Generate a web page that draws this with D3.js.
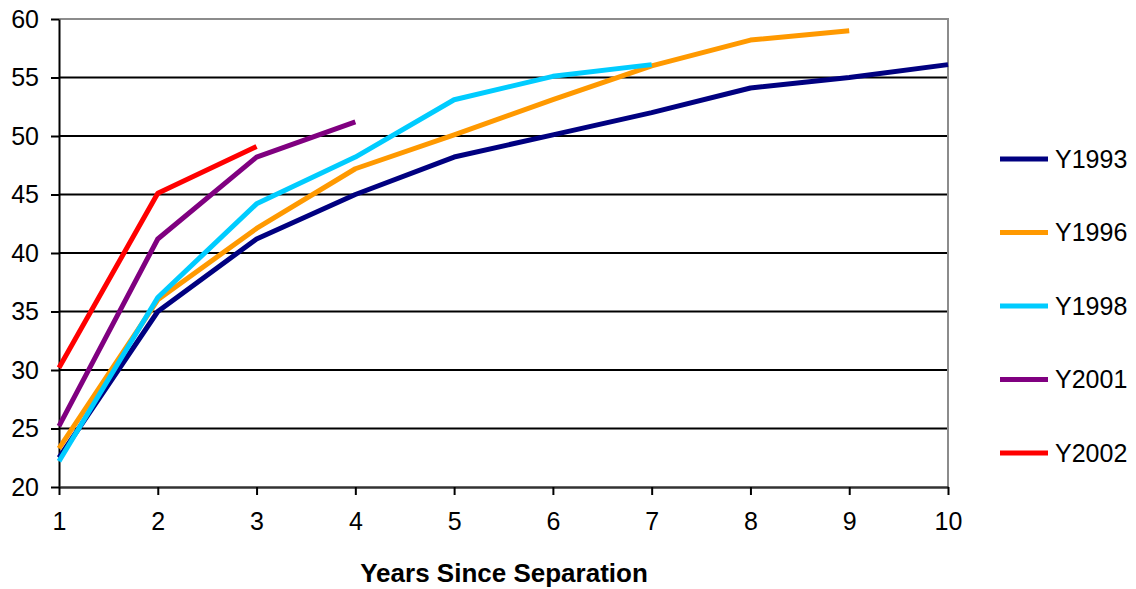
<!DOCTYPE html>
<html>
<head>
<meta charset="utf-8">
<script src="https://cdn.jsdelivr.net/npm/d3@7"></script>
<style>
  body { margin: 0; background: #fff; }
  svg { display: block; font-family: "Liberation Sans", Arial, sans-serif; }
</style>
</head>
<body>
<div id="chart"></div>
<script>
// years since separation (x categories)
const years = [1, 2, 3, 4, 5, 6, 7, 8, 9, 10];
const yTicks = [20, 25, 30, 35, 40, 45, 50, 55, 60];

// series values
const seriesNames = ["Y1993", "Y1996", "Y1998", "Y2001", "Y2002"];
const y1993 = [22.5, 35.0, 41.2, 45.0, 48.2, 50.1, 52.0, 54.1, 55.0, 56.1];
const y1996 = [23.3, 36.0, 42.1, 47.2, 50.1, 53.1, 56.0, 58.2, 59.0];
const y1998 = [22.2, 36.2, 44.2, 48.2, 53.1, 55.1, 56.1];
const y2001 = [25.2, 41.2, 48.2, 51.2];
const y2002 = [30.2, 45.1, 49.1];
const seriesColors = ["#000080", "#FF9900", "#00CCFF", "#800080", "#FF0000"];

const series = [y1993, y1996, y1998, y2001, y2002].map((vals, i) => ({
    name: seriesNames[i],
    color: seriesColors[i],
    values: vals.map((v, j) => ({ x: years[j], y: v }))
}));

const width = 1136, height = 589;
const margin = { top: 19, right: 188, bottom: 102, left: 59 };
const innerWidth = width - margin.left - margin.right;
const innerHeight = height - margin.top - margin.bottom;

const svg = d3.select("#chart").append("svg")
    .attr("width", width)
    .attr("height", height);

const g = svg.append("g")
    .attr("transform", `translate(${margin.left},${margin.top})`);

const xScale = d3.scaleLinear().domain([1, 10]).range([0, innerWidth]);
const yScale = d3.scaleLinear().domain([20, 60]).range([innerHeight, 0]);

// horizontal gridlines
g.selectAll(".grid")
    .data(yTicks.slice(1, -1))
    .enter().append("line")
    .attr("x1", 0)
    .attr("x2", innerWidth)
    .attr("y1", d => yScale(d))
    .attr("y2", d => yScale(d))
    .attr("stroke", "#000")
    .attr("stroke-width", 2);

// plot border (top / right grey)
g.append("path")
    .attr("d", `M0,0H${innerWidth}V${innerHeight}`)
    .attr("fill", "none")
    .attr("stroke", "#8c8c8c")
    .attr("stroke-width", 2);

// y axis
const yAxis = g.append("g")
    .call(d3.axisLeft(yScale).tickValues(yTicks).tickSize(8).tickPadding(12).tickSizeOuter(0));
yAxis.select(".domain").attr("stroke", "#000").attr("stroke-width", 2);
yAxis.selectAll(".tick line").attr("stroke", "#000").attr("stroke-width", 2);
yAxis.selectAll("text")
    .style("font-family", "'Liberation Sans', Arial, sans-serif")
    .style("font-size", "25px")
    .attr("fill", "#000");

// x axis
const xAxis = g.append("g")
    .attr("transform", `translate(0,${innerHeight})`)
    .call(d3.axisBottom(xScale).tickValues(years).tickFormat(d3.format("d")).tickSize(8).tickPadding(17).tickSizeOuter(0));
xAxis.select(".domain").attr("stroke", "#333").attr("stroke-width", 2.5);
xAxis.selectAll(".tick line").attr("stroke", "#000").attr("stroke-width", 2);
xAxis.selectAll("text")
    .style("font-family", "'Liberation Sans', Arial, sans-serif")
    .style("font-size", "25px")
    .attr("fill", "#000");

// x axis title
svg.append("text")
    .attr("x", 504)
    .attr("y", 582)
    .attr("text-anchor", "middle")
    .style("font-family", "'Liberation Sans', Arial, sans-serif")
    .style("font-size", "26px")
    .style("font-weight", "bold")
    .text("Years Since Separation");

// lines
const line = d3.line()
    .x(d => xScale(d.x))
    .y(d => yScale(d.y));

g.selectAll(".series")
    .data(series)
    .enter().append("path")
    .attr("class", "series")
    .attr("d", d => line(d.values))
    .attr("fill", "none")
    .attr("stroke", d => d.color)
    .attr("stroke-width", 5)
    .attr("stroke-linejoin", "round");

// legend
const legend = svg.append("g")
    .attr("transform", "translate(1000,159)")
    .selectAll("g")
    .data(series)
    .enter().append("g")
    .attr("transform", (d, i) => `translate(0,${i * 73.5})`);

legend.append("line")
    .attr("x1", 0)
    .attr("x2", 48)
    .attr("stroke", d => d.color)
    .attr("stroke-width", 5);

legend.append("text")
    .attr("x", 55)
    .attr("dy", "0.35em")
    .style("font-family", "'Liberation Sans', Arial, sans-serif")
    .style("font-size", "25px")
    .text(d => d.name);
</script>
</body>
</html>
